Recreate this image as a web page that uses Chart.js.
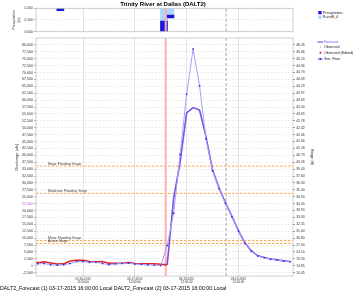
<!DOCTYPE html>
<html>
<head>
<meta charset="utf-8">
<script src="https://cdn.jsdelivr.net/npm/chart.js@4.4.1/dist/chart.umd.min.js"></script>
<style>
html,body{margin:0;padding:0;background:#fff;}
body{width:355px;height:293px;overflow:hidden;position:relative;font-family:"Liberation Sans",Arial,sans-serif;}
canvas{position:absolute;left:0;top:0;width:355px;height:293px;}
#title{position:absolute;left:0;top:0.5px;width:326px;text-align:center;font:bold 6px/6px "Liberation Sans",Arial,sans-serif;color:#000;white-space:nowrap;}
#foot{position:absolute;left:0;top:286px;font:5.3px/5.3px "Liberation Sans",Arial,sans-serif;color:#000;white-space:nowrap;}
</style>
</head>
<body>
<canvas id="precip" width="355" height="293"></canvas>
<canvas id="main" width="355" height="293"></canvas>
<div id="title">Trinity River at Dallas (DALT2)</div>
<div id="foot">DALT2_Forecast (1) 03-17-2015 16:00:00 Local DALT2_Forecast (2) 03-17-2015 16:00:00 Local</div>
<script>
const FONT = '"Liberation Sans", Arial, sans-serif';
Chart.defaults.font.family = FONT;
Chart.defaults.font.size = 4;
Chart.defaults.color = '#333';

// ---- data (hours relative to 03-16-2015 12:00) ----
const dayTicks = [0, 24, 48, 72];
const dayLabels = [["03-16-2015","12:00:00"],["03-17-2015","12:00:00"],["03-18-2015","12:00:00"],["03-19-2015","12:00:00"]];

const flowTicks = [-2500,0,2500,5000,7500,10000,12500,15000,17500,20000,22500,25000,27500,30000,32500,35000,37500,40000,42500,45000,47500,50000,52500,55000,57500,60000,62500,65000,67500,70000,72500,75000,77500,80000];
const stageLabels = ["14.45","14.85","19.53","24.10","27.00","30.80","31.60","32.55","33.30","33.90","34.40","34.90","35.40","36.30","37.60","39.40","40.26","40.73","41.18","41.66","42.06","42.42","42.78","43.09","43.40","43.69","43.97","44.23","44.49","44.73","44.96","45.19","45.66","46.26"];

const simHours = [-21,-18,-15,-12,-9,-6,-3,0,3,6,9,12,15,18,21,24,27,30,33,36,39,42,45,48,51,54,57,60,63,66,69,72,75,78,81,84,87,90,93,96];
const simFlow  = [700,800,300,200,350,800,1500,1500,1200,1300,800,400,700,800,900,600,500,300,200,100,7300,19000,40300,62100,78500,65200,45900,34400,28000,22600,17750,12600,8100,5300,3500,2900,2300,2050,1700,1450];

const obsHours = [-21.8,-21,-18,-15,-12,-9,-6,-3,0,3,6,9,12,15,18,21,24,27,30,33,36,39];
const obsFlow  = [1100,1100,1450,1000,600,650,1700,2000,2000,1500,1450,1500,900,850,900,1150,800,700,700,700,500,300];

const fcstHours = [39,42,45,48,51,54,57,60,63,66,69,72,75,78,81,84,87,90,93,96];
const fcstFlow  = [300,24500,37500,55400,57300,56400,46700,34800,28200,22800,17900,12700,8200,5400,3600,2950,2400,2100,1750,1500];

const floodNames = ["Major Flooding Stage","Moderate Flooding Stage","Minor Flooding Stage","Action Stage"];
const floodFlows = [36100, 26200, 9100, 8100];

const precipHours = [-10.5, 37.5, 40.5];
const precipRange = [[0.18,0.2],[0,0.091],[0.117,0.143]];
const runoffHours = [37.5, 40.5];
const runoffRange = [[0.091,0.2],[0.143,0.2]];
const precipTicks = [0, 0.1, 0.2];
const precipTickLabels = ["0.000","0.100","0.200"];
const precipLegendLabels = ["Precipitation","RunoffI_4"];
const mainLegendLabels = ["Forecast","Observed","Observed (Edited)","Sim. Flow"];

const forecastHour = 38.3, markerHour = 66.3;
const xMin = -21.8, xMax = 97.3;
const flowMin = -3730, flowMax = 82500;

const pts = (xs, ys) => xs.map((x, i) => ({x: x, y: ys[i]}));
const vLine = (x, lo, hi) => [{x: x, y: lo}, {x: x, y: hi}];
const hLine = (y) => [{x: xMin, y: y}, {x: xMax, y: y}];

const framePlugin = {
  id: 'frame',
  afterDraw(chart) {
    const {ctx, chartArea: a} = chart;
    ctx.save();
    ctx.strokeStyle = '#c4c4c4';
    ctx.lineWidth = 0.8;
    ctx.strokeRect(a.left, a.top, a.right - a.left, a.bottom - a.top);
    ctx.restore();
  }
};

const floodLabelPlugin = {
  id: 'floodLabels',
  afterDatasetsDraw(chart) {
    const {ctx, chartArea, scales} = chart;
    ctx.save();
    ctx.font = '3.5px ' + FONT;
    ctx.fillStyle = '#444';
    ctx.textBaseline = 'bottom';
    floodNames.forEach((n, i) => {
      ctx.fillText(n, chartArea.left + 12, scales.y.getPixelForValue(floodFlows[i]) - 0.4);
    });
    ctx.restore();
  }
};

const precipLegendPlugin = {
  id: 'precipLegend',
  afterDraw(chart) {
    const ctx = chart.ctx;
    ctx.save();
    ctx.font = '3.6px ' + FONT;
    ctx.textBaseline = 'middle';
    ctx.fillStyle = '#1818d8'; ctx.fillRect(318.3, 11, 3.3, 3.3);
    ctx.fillStyle = '#aad8ff'; ctx.fillRect(318.3, 15.7, 3.3, 3.3);
    ctx.fillStyle = '#222';
    ctx.fillText(precipLegendLabels[0], 322.8, 12.7);
    ctx.fillText(precipLegendLabels[1], 322.8, 17.4);
    ctx.restore();
  }
};

const mainLegendPlugin = {
  id: 'mainLegend',
  afterDraw(chart) {
    const ctx = chart.ctx;
    ctx.save();
    ctx.font = '3.6px ' + FONT;
    ctx.textBaseline = 'middle';
    const ys = [42, 47, 52.7, 59];
    ctx.strokeStyle = '#7d4fe0'; ctx.lineWidth = 1.2;
    ctx.beginPath(); ctx.moveTo(317.5, ys[0]); ctx.lineTo(323, ys[0]); ctx.stroke();
    ctx.fillStyle = '#ff9c9c';
    ctx.beginPath(); ctx.arc(320.5, ys[1], 0.8, 0, Math.PI * 2); ctx.fill();
    ctx.fillStyle = '#e02424'; ctx.fillRect(319.6, ys[2] - 0.9, 1.8, 1.8);
    ctx.strokeStyle = '#5a5aff'; ctx.lineWidth = 0.8;
    ctx.beginPath(); ctx.moveTo(317.5, ys[3]); ctx.lineTo(323, ys[3]); ctx.stroke();
    ctx.fillStyle = '#2a2ae6';
    ctx.beginPath(); ctx.moveTo(320.3, ys[3] - 1.3); ctx.lineTo(321.6, ys[3]); ctx.lineTo(320.3, ys[3] + 1.3); ctx.lineTo(319, ys[3]); ctx.closePath(); ctx.fill();
    ctx.fillStyle = '#6a4ae0'; ctx.fillText(mainLegendLabels[0], 324, ys[0]);
    ctx.fillStyle = '#222';
    ctx.fillText(mainLegendLabels[1], 324, ys[1]);
    ctx.fillText(mainLegendLabels[2], 324, ys[2]);
    ctx.fillText(mainLegendLabels[3], 324, ys[3]);
    ctx.restore();
  }
};

// ---- precipitation panel ----
new Chart(document.getElementById('precip'), {
  type: 'bar',
  data: {
    datasets: [
      {type: 'line', data: vLine(forecastHour, 0, 0.2), borderColor: '#ffb0b0', borderWidth: 2, pointRadius: 0, order: 1},
      {type: 'line', data: vLine(markerHour, 0, 0.2), borderColor: '#8c8c8c', borderDash: [3, 2], borderWidth: 0.8, pointRadius: 0, order: 4},
      {label: precipLegendLabels[0], data: pts(precipHours, precipRange), backgroundColor: '#1818d8', order: 2},
      {label: precipLegendLabels[1], data: pts(runoffHours, runoffRange), backgroundColor: '#aad8ff', order: 3}
    ]
  },
  options: {
    responsive: false, animation: false, events: [],
    layout: {padding: {top: 8.3, right: 62, bottom: 260.3, left: 0}},
    datasets: {bar: {barThickness: 7, grouped: false, borderWidth: 0, borderSkipped: false}},
    plugins: {legend: {display: false}, tooltip: {enabled: false}},
    scales: {
      x: {
        type: 'linear', min: xMin, max: xMax, offset: false,
        afterBuildTicks: s => { s.ticks = dayTicks.map(v => ({value: v})); },
        afterFit: s => { s.height = 1; },
        ticks: {display: false},
        grid: {offset: false, color: '#dcdcdc', lineWidth: 0.8, tickLength: 0},
        border: {display: false}
      },
      y: {
        type: 'linear', min: 0, max: 0.2,
        afterBuildTicks: s => { s.ticks = precipTicks.map(v => ({value: v})); },
        afterFit: s => { s.width = 36; },
        ticks: {autoSkip: false, padding: 1, font: {size: 3.4}, callback: v => precipTickLabels[precipTicks.indexOf(v)]},
        grid: {color: '#e4e4e4', lineWidth: 0.7, tickLength: 2, tickColor: '#999'},
        border: {display: false, dash: [2, 1.5]},
        title: {display: true, text: ['Precipitation', '(in)'], font: {size: 3.5}, padding: {top: 12.4, bottom: 0}, color: '#333'}
      }
    }
  },
  plugins: [framePlugin, precipLegendPlugin]
});

// ---- main discharge panel ----
const floodSets = floodFlows.map(f => ({data: hLine(f), borderColor: '#ffa650', borderDash: [2.5, 1.5], borderWidth: 1, pointRadius: 0, order: 6}));

new Chart(document.getElementById('main'), {
  type: 'line',
  data: {
    datasets: [
      {label: 'Sim. Flow', data: pts(simHours, simFlow), borderColor: '#a2a2ff', borderWidth: 1, pointStyle: 'rect', pointRadius: 1.1, pointBackgroundColor: '#2a2ae6', pointBorderWidth: 0, order: 1},
      {label: 'Forecast', data: pts(fcstHours, fcstFlow), borderColor: '#7d4fe0', borderWidth: 1.6, pointRadius: 0, order: 2},
      {label: 'Observed (Edited)', data: pts(obsHours, obsFlow), borderColor: '#e02424', borderWidth: 1.6, pointRadius: 0, order: 3},
      {data: vLine(forecastHour, flowMin, flowMax), borderColor: '#ffb0b0', borderWidth: 2, pointRadius: 0, order: 5},
      ...floodSets,
      {data: vLine(markerHour, flowMin, flowMax), borderColor: '#8c8c8c', borderDash: [3, 2], borderWidth: 0.8, pointRadius: 0, order: 7}
    ]
  },
  options: {
    responsive: false, animation: false, events: [],
    layout: {padding: {top: 38, right: 37, bottom: 8, left: 0}},
    elements: {line: {tension: 0}},
    plugins: {legend: {display: false}, tooltip: {enabled: false}},
    scales: {
      x: {
        type: 'linear', min: xMin, max: xMax,
        afterBuildTicks: s => { s.ticks = dayTicks.map(v => ({value: v})); },
        afterFit: s => { s.height = 9; },
        ticks: {autoSkip: false, maxRotation: 0, padding: 0.3, font: {size: 3, lineHeight: 1.1}, color: '#333', callback: v => dayLabels[dayTicks.indexOf(v)]},
        grid: {color: '#dcdcdc', lineWidth: 0.8, tickLength: 1, tickColor: '#aaa'},
        border: {display: false}
      },
      y: {
        type: 'linear', position: 'left', min: flowMin, max: flowMax,
        afterBuildTicks: s => { s.ticks = flowTicks.map(v => ({value: v})); },
        afterFit: s => { s.width = 36; },
        ticks: {
          autoSkip: false, padding: 1, font: {size: 3.6},
          color: c => (c.tick && c.tick.value === 0) ? '#e02020' : ((c.tick && c.tick.value === 22500) ? '#b45ae6' : '#333'),
          callback: v => v.toLocaleString('en-US')
        },
        grid: {color: '#e4e4e4', lineWidth: 0.7, tickLength: 2, tickColor: '#999'},
        border: {display: false, dash: [2, 1.5]},
        title: {display: true, text: 'Discharge (cfs)', font: {size: 4}, padding: {top: 14.6, bottom: 0}, color: '#333'}
      },
      y2: {
        type: 'linear', position: 'right', min: flowMin, max: flowMax,
        afterBuildTicks: s => { s.ticks = flowTicks.map(v => ({value: v})); },
        afterFit: s => { s.width = 25; },
        ticks: {autoSkip: false, padding: 1.2, font: {size: 3.4}, color: '#333', callback: v => stageLabels[flowTicks.indexOf(v)]},
        grid: {drawOnChartArea: false, tickLength: 2, tickColor: '#999'},
        border: {display: false},
        title: {display: true, text: 'Stage (ft)', font: {size: 4}, padding: {top: 3.6, bottom: 0}, color: '#333'}
      }
    }
  },
  plugins: [framePlugin, floodLabelPlugin, mainLegendPlugin]
});
</script>
</body>
</html>
